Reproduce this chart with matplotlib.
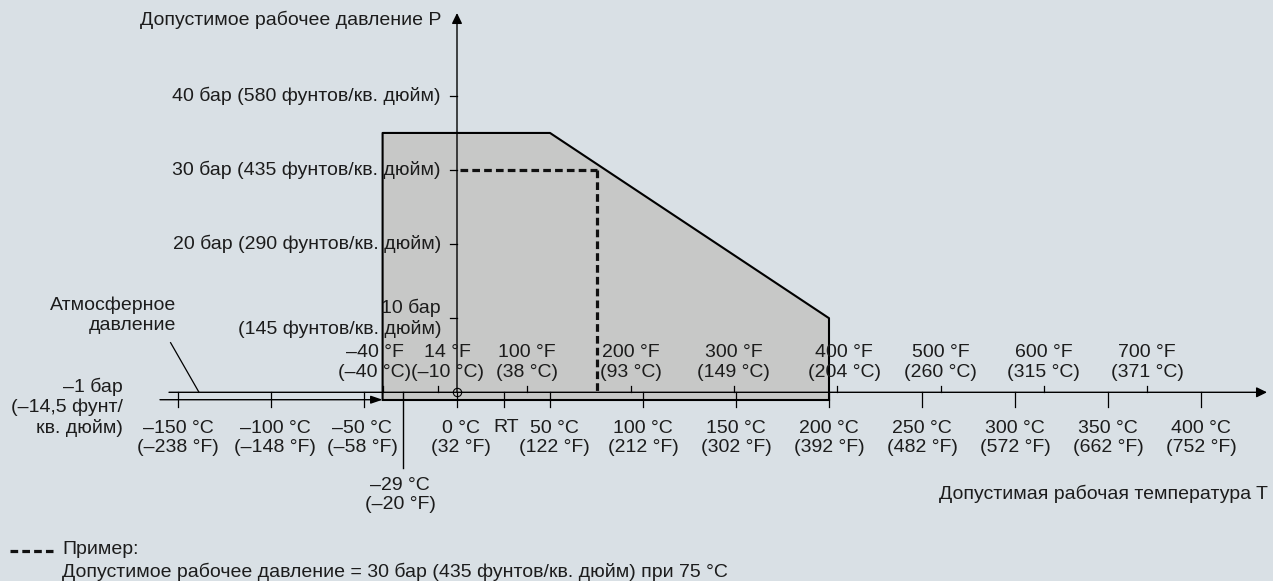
import matplotlib
matplotlib.use("Agg")
import matplotlib.pyplot as plt

# chart data
celsius_ticks = [-150, -100, -50, 0, 50, 100, 150, 200, 250, 300, 350, 400]
celsius_in_f = [-238, -148, -58, 32, 122, 212, 302, 392, 482, 572, 662, 752]
fahrenheit_ticks = [-40, 14, 100, 200, 300, 400, 500, 600, 700]
fahrenheit_in_c = [-40, -10, 38, 93, 149, 204, 260, 315, 371]
pressure_ticks = [10, 20, 30, 40]
pressure_psi = [145, 290, 435, 580]
envelope_temp = [-40, -40, 50, 200, 200]
envelope_pressure = [-1, 35, 35, 10, -1]
example_temp = 75
example_pressure = 30
rt_temp = 25
min_temp, min_temp_f = -29, -20
vacuum_pressure = -1

BG = "#d9e0e5"
FILL = "#c7c8c7"
INK = "#1c1c1c"

# pixel -> data mapping (figure 1273x581 at 100 dpi, axes fills the figure)
X0, SX = 457.0, 1.86    # px of 0 °C, px per °C
Y0, SY = 392.3, 7.41    # px of 0 bar, px per bar


def px(x, y):
    return (x - X0) / SX, (Y0 - y) / SY


def py(y):
    return (Y0 - y) / SY


plt.rcParams["font.family"] = ["Liberation Sans", "DejaVu Sans"]
FS = 14

fig = plt.figure(figsize=(12.73, 5.81), dpi=100, facecolor=BG)
ax = fig.add_axes([0, 0, 1, 1])
ax.set_facecolor(BG)
ax.set_xlim(px(0, 0)[0], px(1273, 0)[0])
ax.set_ylim(py(581), py(0))
ax.axis("off")

# operating envelope
ax.fill(envelope_temp, envelope_pressure, color=FILL, zorder=1)
ax.plot(envelope_temp, envelope_pressure, color="black", lw=1.5, zorder=3)
ax.plot([envelope_temp[0], envelope_temp[-1]], [vacuum_pressure, vacuum_pressure],
        color="black", lw=1.5, zorder=3)

# temperature axis (0 bar) and pressure axis
arrow = dict(arrowstyle="-|>,head_length=0.45,head_width=0.22", color="black",
             lw=1.0, shrinkA=0, shrinkB=0, mutation_scale=14)
ax.annotate("", xy=(px(1267, 0)[0], 0), xytext=(px(169, 0)[0], 0),
            arrowprops=arrow, zorder=4)
ax.annotate("", xy=(0, py(13)), xytext=(0, 0), arrowprops=arrow, zorder=4)
# -1 bar line running into the envelope
ax.annotate("", xy=(envelope_temp[0], vacuum_pressure),
            xytext=(px(160, 0)[0], vacuum_pressure),
            arrowprops=dict(arrowstyle="-|>,head_length=0.5,head_width=0.17",
                            color="black", lw=1.0, shrinkA=0, shrinkB=0,
                            mutation_scale=14), zorder=4)

# origin marker
ax.plot([0], [0], marker="o", ms=6, mfc="none", mec="black", mew=0.8, zorder=5)

# Celsius ticks (down) with labels
c_tick = py(407)
c_nudge = {-100: 4, -50: -2, 0: 4, 50: 4}
for t, f in zip(celsius_ticks, celsius_in_f):
    ax.plot([t, t], [0, c_tick], color="black", lw=0.9, zorder=4)
    ax.text(t + c_nudge.get(t, 0) / SX, py(438), f"{t} °C\n({f} °F)".replace("-", "–"),
            ha="center", va="center", fontsize=FS, color=INK)
ax.plot([rt_temp, rt_temp], [0, c_tick], color="black", lw=0.9, zorder=4)
ax.text(rt_temp + 1.5, py(427), "RT", ha="center", va="center", fontsize=FS, color=INK)

# Fahrenheit ticks (up) with labels
f_nudge = {-40: -8, 14: 9, 400: 7}
for f, c in zip(fahrenheit_ticks, fahrenheit_in_c):
    x = (f - 32) * 5 / 9
    ax.plot([x, x], [0, py(385.7)], color="black", lw=0.9, zorder=4)
    ax.text(x + f_nudge.get(f, 0) / SX, py(362.5), f"{f} °F\n({c} °C)".replace("-", "–"),
            ha="center", va="center", fontsize=FS, color=INK, zorder=6)

# minimum temperature marker
ax.plot([min_temp, min_temp], [0, py(468)], color="black", lw=1.0, zorder=4)
ax.text(min_temp - 1.5, py(495), f"{min_temp} °C\n({min_temp_f} °F)".replace("-", "–"),
        ha="center", va="center", fontsize=FS, color=INK)

# pressure ticks with labels
for p, psi in zip(pressure_ticks, pressure_psi):
    ax.plot([px(450, 0)[0], 0], [p, p], color="black", lw=0.9, zorder=4)
    sep = "\n" if p == 10 else " "
    ax.text(px(441, 0)[0], p, f"{p} бар{sep}({psi} фунтов/кв. дюйм)", ha="right",
            va="center", fontsize=FS, color=INK, zorder=6, multialignment="right")

# example (dashed)
dash = dict(color="#111111", lw=2.3, ls=(0, (2.4, 1.3)), zorder=5)
ax.plot([px(460, 0)[0], example_temp], [example_pressure, example_pressure], **dash)
ax.plot([example_temp, example_temp], [example_pressure, 0], **dash)

# axis titles and notes
ax.text(*px(441, 20), "Допустимое рабочее давление P", ha="right", va="center",
        fontsize=FS, color=INK)
ax.text(*px(1268, 494), "Допустимая рабочая температура T", ha="right", va="center",
        fontsize=FS, color=INK)
ax.text(*px(176, 315), "Атмосферное\nдавление", ha="right", va="center",
        fontsize=FS, color=INK, multialignment="right")
ax.plot(*zip(px(170.6, 342.7), px(199, 392.3)), color="black", lw=0.9, zorder=4)
ax.text(*px(123, 407), "–1 бар\n(–14,5 фунт/\nкв. дюйм)", ha="right", va="center",
        fontsize=FS, color=INK, multialignment="right")

# legend
ax.plot(*zip(px(10, 550.5), px(53, 550.5)), **dash)
ax.text(*px(62, 550), "Пример:", ha="left", va="center", fontsize=FS, color=INK)
ax.text(*px(62, 572), f"Допустимое рабочее давление = {example_pressure} бар "
        f"(435 фунтов/кв. дюйм) при {example_temp} °C", ha="left", va="center",
        fontsize=FS, color=INK)

fig.savefig("out.png", dpi=100, facecolor=BG)
